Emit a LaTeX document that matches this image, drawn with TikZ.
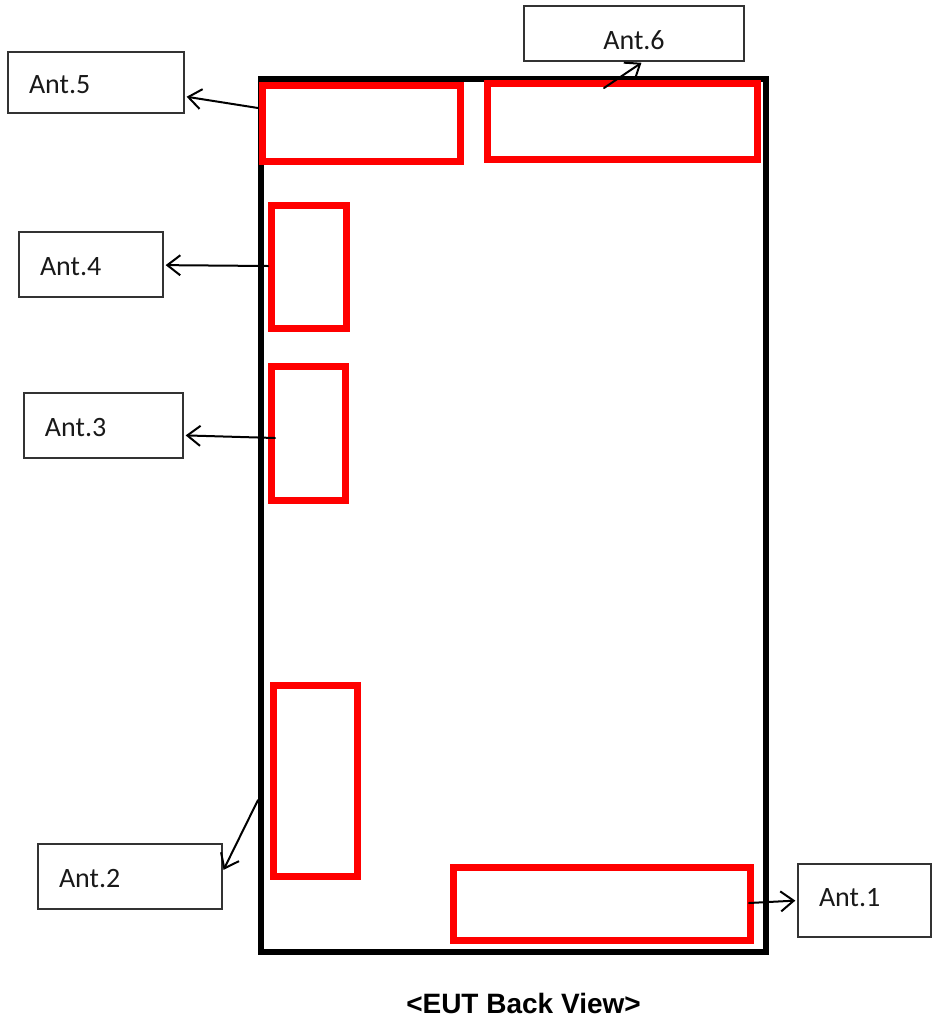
\documentclass[tikz,border=0pt]{standalone}
\usepackage{fontspec}
\setmainfont{Carlito}
\newfontfamily\capfont{Liberation Sans}
\usetikzlibrary{arrows.meta}
\tikzset{
  eut/.style={draw=black, line width=6pt, inner sep=0pt, rectangle},
  redbox/.style={draw=red, line width=7pt, inner sep=0pt, rectangle},
  antbox/.style={draw=black!80, line width=1.3pt, rectangle, inner xsep=21pt, inner ysep=0pt,
     align=left, font=\fontsize{28}{32}\selectfont, text=black!90, text height=21pt, text depth=0pt},
  ptr/.style={draw=black, line width=2pt, line cap=round, shorten >=2pt,
     -{Straight Barb[length=13pt,width=20pt,line width=2pt]}}
}
\begin{document}
\begin{tikzpicture}[x=1pt,y=-1pt]
\useasboundingbox (0,0) rectangle (933,1021);
% device outline
\node[eut, minimum width=505pt, minimum height=873pt] (eut) at (513.5,515.5) {};
% antenna areas
\node[redbox, minimum width=198pt, minimum height=75.5pt] (r5) at (361.5,123.25) {};
\node[redbox, minimum width=270.5pt, minimum height=76pt] (r6) at (622.25,121.5) {};
\node[redbox, minimum width=75.5pt, minimum height=123pt] (r4) at (308.75,266.5) {};
\node[redbox, minimum width=74pt, minimum height=133.5pt] (r3) at (308,433.25) {};
\node[redbox, minimum width=84pt, minimum height=191pt] (r2) at (315,780.5) {};
\node[redbox, minimum width=296.5pt, minimum height=73.5pt] (r1) at (601.75,903.75) {};
% labels
\node[antbox, text width=134pt, minimum height=61pt] (ant5) at (96,82.5) {Ant.5};
\node[antbox, text width=178pt, minimum height=55pt, align=center, text height=31pt] (ant6) at (634,33.5) {Ant.6};
\node[antbox, text width=102pt, minimum height=65pt] (ant4) at (91,264.5) {Ant.4};
\node[antbox, text width=117pt, minimum height=65pt] (ant3) at (103.5,425.5) {Ant.3};
\node[antbox, text width=142pt, minimum height=65pt] (ant2) at (130,876.5) {Ant.2};
\node[antbox, text width=91pt, minimum height=73pt, text height=18pt, text depth=7pt] (ant1) at (864.5,900.5) {Ant.1};
% arrow start points
\coordinate (s5) at (258,108);
\coordinate (s6) at (604,88);
\coordinate (s4) at (268,266);
\coordinate (s3) at (275,438);
\coordinate (s2) at (258,800);
\coordinate (s1) at (749,903);
% arrows
\draw[ptr] (s5) -- (ant5);
\draw[ptr] (s6) -- (ant6.-72);
\draw[ptr] (s4) -- (ant4);
\draw[ptr] (s3) -- (ant3.-7);
\draw[ptr] (s2) -- (ant2.3);
\draw[ptr] (s1) -- (ant1.west);
% caption
\node[anchor=base, font=\capfont\bfseries\fontsize{28}{32}\selectfont, inner sep=0pt] (cap) at (523.5,1013) {<EUT Back View>};
\end{tikzpicture}
\end{document}
